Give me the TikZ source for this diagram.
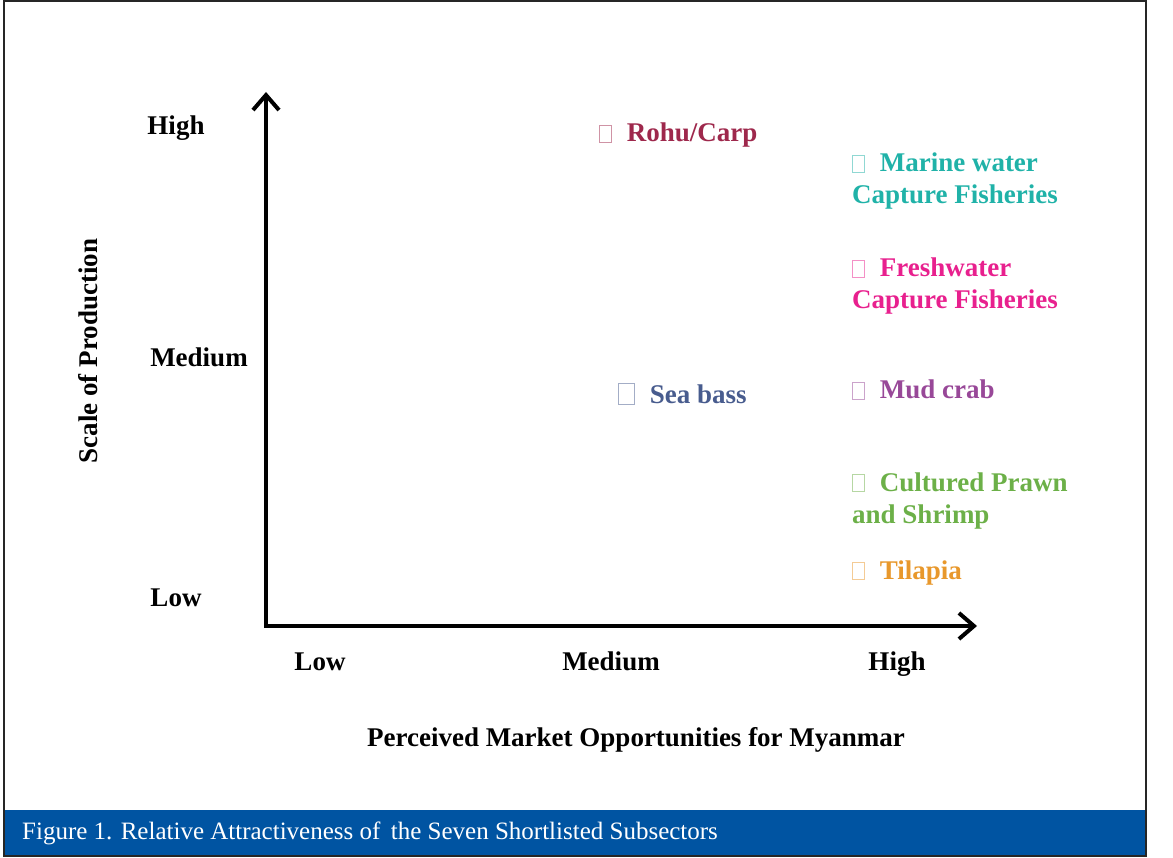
\documentclass[tikz,border=0pt]{standalone}
\usepackage{fontspec}
\setmainfont{Liberation Serif}
\usetikzlibrary{arrows.meta}
\definecolor{capblue}{RGB}{0,84,162}
\definecolor{rohucol}{RGB}{158,40,76}
\definecolor{marcol}{RGB}{32,178,168}
\definecolor{frecol}{RGB}{232,32,142}
\definecolor{mudcol}{RGB}{152,72,152}
\definecolor{seacol}{RGB}{72,92,142}
\definecolor{culcol}{RGB}{108,176,72}
\definecolor{tilcol}{RGB}{232,152,44}
\newcommand{\tofu}[3]{{\color{#1}\setlength{\fboxsep}{0pt}\setlength{\fboxrule}{0.8pt}\fbox{\rule{0pt}{#3}\hspace{#2}}}\hspace{15pt}}
\tikzset{axis/.style={line width=4.5pt,line join=miter,{Straight Barb[length=15pt,width=26pt,line width=4pt]}-{Straight Barb[length=15pt,width=26pt,line width=4pt]}},
axis label/.style={font=\fontsize{27}{32}\selectfont\bfseries,inner sep=0pt,anchor=base},
item/.style={font=\fontsize{27}{32}\selectfont\bfseries,inner sep=0pt,anchor=base west,align=left},
}

\begin{document}
\begin{tikzpicture}[x=1pt,y=-1pt]
		\useasboundingbox (0,0) rectangle (1173,858);
		% frame and caption bar
		\fill[capblue] (4,810) rectangle (1147,856);
		\draw[line width=1.5pt,black!85] (4,1) rectangle (1146,856);
		\node[anchor=base west,inner sep=0pt,text=white,font=\fontsize{25}{30}\selectfont] (cap) at (22,839) {Figure 1. Relative Attractiveness of\, the Seven Shortlisted Subsectors};
		
		% axes
		\coordinate (origin) at (266,626);
		\coordinate (ytop) at (266,92);
		\coordinate (xend) at (977,626);
		\draw[axis] (ytop) -- (origin) -- (xend);
		
		\node[axis label] (yhigh) at (176,135) {High};
		\node[axis label] (ymed) at (199,367) {Medium};
		\node[axis label] (ylow) at (176,606) {Low};
		\node[axis label] (xlow) at (320,670) {Low};
		\node[axis label] (xmed) at (611,670) {Medium};
		\node[axis label] (xhigh) at (897,670) {High};
		\node[axis label] (xtitle) at (636,746) {Perceived Market Opportunities for Myanmar};
		\node[axis label,rotate=90] (ytitle) at (97,351) {Scale of Production};
		
		% subsectors (base of a two-line node is its last line)
		\node[item,text=rohucol] (rohu) at (599,142) {\tofu{rohucol!50}{11pt}{16pt}Rohu/Carp};
		\node[item,text=seacol] (seabass) at (618,404) {\tofu{seacol!50}{15pt}{20pt}Sea bass};
		\node[item,text=marcol] (marine) at (852,204) {\tofu{marcol!50}{11pt}{16pt}Marine water\\Capture Fisheries};
		\node[item,text=frecol] (fresh) at (852,309) {\tofu{frecol!50}{11pt}{16pt}Freshwater\\Capture Fisheries};
		\node[item,text=mudcol] (mud) at (852,399) {\tofu{mudcol!50}{11pt}{16pt}Mud crab};
		\node[item,text=culcol] (prawn) at (852,523) {\tofu{culcol!50}{11pt}{16pt}Cultured Prawn\\and Shrimp};
		\node[item,text=tilcol] (tilapia) at (852,579) {\tofu{tilcol!50}{11pt}{16pt}Tilapia};
\end{tikzpicture}
\end{document}
